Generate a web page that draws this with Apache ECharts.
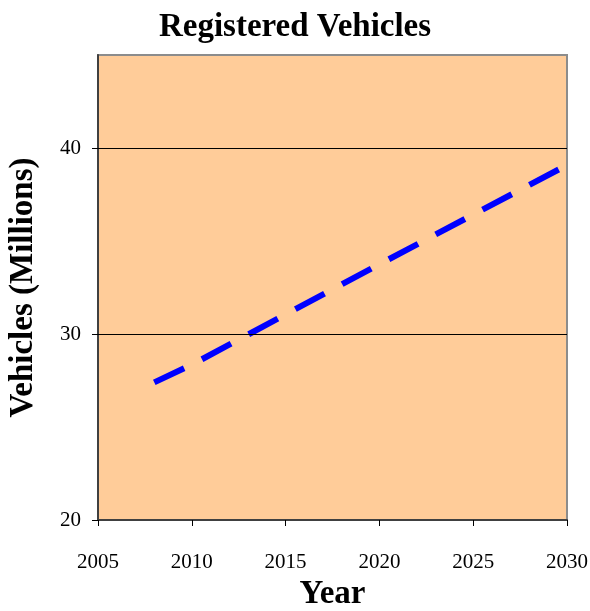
<!DOCTYPE html>
<html>
<head>
<meta charset="utf-8">
<script src="https://cdn.jsdelivr.net/npm/echarts@6/dist/echarts.min.js"></script>
<style>
  html, body { margin: 0; padding: 0; background: #ffffff; }
  #chart { width: 590px; height: 611px; }
</style>
</head>
<body>
<div id="chart"></div>
<script>
// Projected registered vehicles (millions) by year
const years = [2008, 2010, 2015, 2020, 2025, 2030];
const vehicles = [27.4, 28.35, 31.05, 33.75, 36.42, 39.08];
const yTicks = [20, 30, 40];
const gridValues = [30, 40];

const serif = '"Liberation Serif", "Times New Roman", serif';

const chart = echarts.init(document.getElementById('chart'), null, { renderer: 'canvas' });

chart.setOption({
  animation: false,
  backgroundColor: '#ffffff',
  title: {
    text: 'Registered Vehicles',
    left: 'center',
    top: 6,
    textStyle: { fontFamily: serif, fontWeight: 'bold', fontSize: 33, color: '#000' }
  },
  grid: {
    left: 98, right: 23, top: 55, bottom: 91,
    containLabel: false,
    outerBoundsMode: 'none',
    show: true,
    backgroundColor: '#FFCC99',
    borderColor: '#8c8c8c',
    borderWidth: 2
  },
  xAxis: {
    type: 'value',
    min: 2005, max: 2030, interval: 5,
    name: 'Year',
    nameLocation: 'middle',
    nameGap: 58,
    nameTextStyle: { fontFamily: serif, fontWeight: 'bold', fontSize: 33, color: '#000' },
    axisLine: { show: true, lineStyle: { color: '#404040', width: 2 } },
    axisTick: { show: true, inside: false, length: 6, lineStyle: { color: '#000', width: 1 } },
    axisLabel: { margin: 32, fontFamily: serif, fontSize: 21, color: '#000', formatter: v => String(v) },
    splitLine: { show: false }
  },
  yAxis: {
    type: 'value',
    min: 20, max: 45, interval: 10,
    name: 'Vehicles (Millions)',
    nameLocation: 'middle',
    nameGap: 58,
    nameTextStyle: { fontFamily: serif, fontWeight: 'bold', fontSize: 33, color: '#000' },
    axisLine: { show: true, lineStyle: { color: '#404040', width: 2 } },
    axisTick: { show: true, inside: false, length: 6, customValues: yTicks, lineStyle: { color: '#000', width: 1 } },
    axisLabel: {
      margin: 17, fontFamily: serif, fontSize: 21, color: '#000',
      customValues: yTicks,
      formatter: v => (yTicks.indexOf(v) >= 0 ? String(v) : '')
    },
    splitLine: { show: false }
  },
  series: [
    {
      // horizontal gridlines
      type: 'line',
      data: [],
      z: 1,
      silent: true,
      markLine: {
        silent: true,
        symbol: 'none',
        label: { show: false },
        lineStyle: { color: '#000', width: 1, type: 'solid' },
        data: gridValues.map(v => ({ yAxis: v }))
      }
    },
    {
      name: 'Vehicles',
      type: 'line',
      z: 3,
      data: years.map((y, i) => [y, vehicles[i]]),
      showSymbol: false,
      symbol: 'none',
      lineStyle: { color: '#0000FF', width: 6, type: [33, 20], cap: 'butt' }
    }
  ]
});
</script>
</body>
</html>
